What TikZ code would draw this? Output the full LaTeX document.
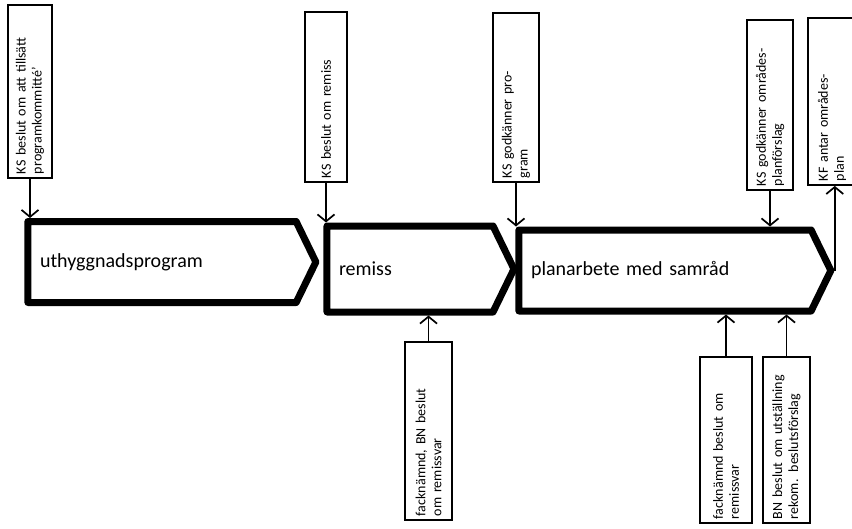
\documentclass[tikz,border=0pt]{standalone}
\usepackage{fontspec}
\setmainfont{Carlito}
\usetikzlibrary{shapes.symbols,arrows.meta}
\begin{document}
\begin{tikzpicture}[
    x=1pt, y=-1pt,
    fas/.style={signal, signal to=east, signal pointer angle=128, draw,
      line width=7pt, line join=round, align=left, inner xsep=10pt, inner ysep=0pt,
      font=\fontsize{20}{22}\selectfont},
    beslut/.style={draw, line width=1.8pt, rotate=90, align=left,
      inner xsep=4pt, inner ysep=0pt, font=\fontsize{14}{16}\selectfont},
    pil/.style={line width=1.5pt, -{Straight Barb[length=7pt,width=17pt,line width=1.7pt]}},
  ]
    %% bounding box: one unit = one pixel, y downwards
    \useasboundingbox (0,0) rectangle (852,528);

    %% --- the three phases ---
    \node[fas, minimum width=288pt, minimum height=81pt, text width=244pt]
      (utb) at (162,262) {uthyggnadsprogram};
    \node[fas, minimum width=187pt, minimum height=86pt, text width=142pt]
      (rem) at (410,269) {remiss};
    \node[fas, minimum width=312pt, minimum height=81pt, text width=268pt]
      (plan) at (665,270.5) {planarbete med samråd};

    %% --- decisions above ---
    \node[beslut, minimum height=44pt, text width=165pt] (ks1) at (30,91.5)
      {KS beslut om att tillsätt\\programkommitté'};
    \node[beslut, minimum height=42pt, text width=162pt] (ks2) at (326,97)
      {KS beslut om remiss};
    \node[beslut, minimum height=46pt, text width=161pt] (ks3) at (516,97.5)
      {KS godkänner pro-\\gram};
    \node[beslut, minimum height=46pt, text width=162pt] (ks4) at (770,105)
      {KS godkänner områdes-\\planförslag};
    \node[beslut, minimum height=48pt, text width=159pt] (kf) at (832,101.5)
      {KF antar områdes-\\plan};

    %% --- decisions below ---
    \node[beslut, minimum height=47pt, text width=170pt] (bn1) at (428.5,431)
      {facknämnd, BN beslut\\om remissvar};
    \node[beslut, minimum height=52pt, text width=158pt] (fn) at (726,440)
      {facknämnd beslut om\\remissvar};
    \node[beslut, minimum height=47pt, text width=158pt] (bn2) at (786.5,440)
      {BN beslut om utställning\\rekom. beslutsförslag};

    %% --- connectors ---
    \draw[pil] (ks1.west) -- (ks1.west |- utb.north);
    \draw[pil] (ks2.west) -- (ks2.west |- rem.north);
    \draw[pil] (ks3.west) -- (ks3.west |- plan.north);
    \draw[pil] (ks4.west) -- (ks4.west |- plan.north);
    \draw[pil] (plan.east) -- (plan.east |- kf.west);
    \draw[pil] (bn1.east) -- (bn1.east |- rem.south);
    \draw[pil] (fn.east) -- (fn.east |- plan.south);
    \draw[pil] (bn2.east) -- (bn2.east |- plan.south);
\end{tikzpicture}
\end{document}
